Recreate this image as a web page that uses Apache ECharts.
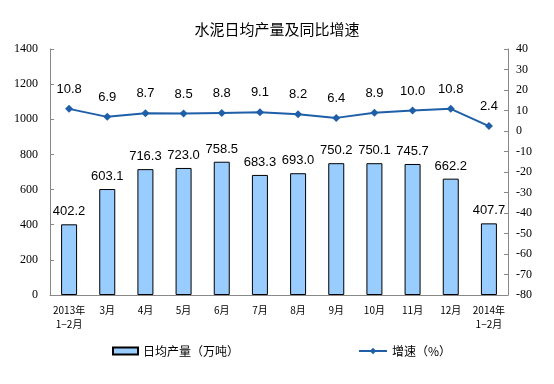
<!DOCTYPE html>
<html><head><meta charset="utf-8">
<script src="https://cdn.jsdelivr.net/npm/echarts@6/dist/echarts.min.js"></script>
<style>html,body{margin:0;padding:0;background:#fff}#c{width:554px;height:384px}</style>
</head><body><div id="c"></div>
<script>
const categories = ['2013年\n1−2月','3月','4月','5月','6月','7月','8月','9月','10月','11月','12月','2014年\n1−2月'];
const output = [402.2,603.1,716.3,723.0,758.5,683.3,693.0,750.2,750.1,745.7,662.2,407.7];
const growth = [10.8,6.9,8.7,8.5,8.8,9.1,8.2,6.4,8.9,10.0,10.8,2.4];
const barName = '日均产量（万吨）';
const lineName = '增速（%）';

const chart = echarts.init(document.getElementById('c'));
chart.setOption({
  animation:false,
  title:{text:'水泥日均产量及同比增速',left:'center',top:17,textStyle:{fontFamily:'Noto Sans CJK SC',fontSize:15,fontWeight:'normal',color:'#000'}},
  grid:{left:50,right:46,top:49,bottom:89},
  legend:[
    {data:[{name:barName,icon:'rect'}],left:107,top:340,itemWidth:25,itemHeight:7,itemGap:4,textStyle:{fontFamily:'Noto Sans CJK SC',fontSize:12,color:'#000'}},
    {data:[lineName],left:353,top:340,itemWidth:28,itemHeight:8,textStyle:{fontFamily:'Noto Sans CJK SC',fontSize:12,color:'#000'}}
  ],
  xAxis:{type:'category',data:categories,boundaryGap:true,
    axisLine:{lineStyle:{color:'#888'}},
    axisTick:{inside:true,length:3,lineStyle:{color:'#888'}},
    axisLabel:{interval:0,color:'#000',fontFamily:'Noto Sans CJK SC',fontSize:10,lineHeight:14,margin:8}},
  yAxis:[
    {type:'value',min:0,max:1400,interval:200,splitLine:{show:false},
     axisLine:{show:true,lineStyle:{color:'#888'}},axisTick:{show:true,inside:true,length:4,lineStyle:{color:'#888'}},
     axisLabel:{color:'#000',fontFamily:'Liberation Serif',fontSize:12,margin:12,formatter:v=>String(v)}},
    {type:'value',min:-80,max:40,interval:10,splitLine:{show:false},
     axisLine:{show:true,lineStyle:{color:'#888'}},axisTick:{show:true,inside:true,length:4,lineStyle:{color:'#888'}},
     axisLabel:{color:'#000',fontFamily:'Liberation Serif',fontSize:12,margin:8,formatter:v=>String(v)}}
  ],
  series:[
    {name:barName,type:'bar',data:output,barWidth:16,
     itemStyle:{color:'#99CCFF',borderColor:'#000',borderWidth:1},
     label:{show:true,position:'top',distance:6,color:'#000',fontFamily:'Liberation Sans',fontSize:13,formatter:p=>p.value.toFixed(1)}},
    {name:lineName,type:'line',yAxisIndex:1,data:growth,
     symbol:'diamond',symbolSize:8,
     lineStyle:{color:'#1F5FA8',width:2},itemStyle:{color:'#1F5FA8'},
     label:{show:true,position:'top',distance:9,color:'#000',fontFamily:'Liberation Sans',fontSize:13,formatter:p=>p.value.toFixed(1)}}
  ]
});
</script></body></html>
